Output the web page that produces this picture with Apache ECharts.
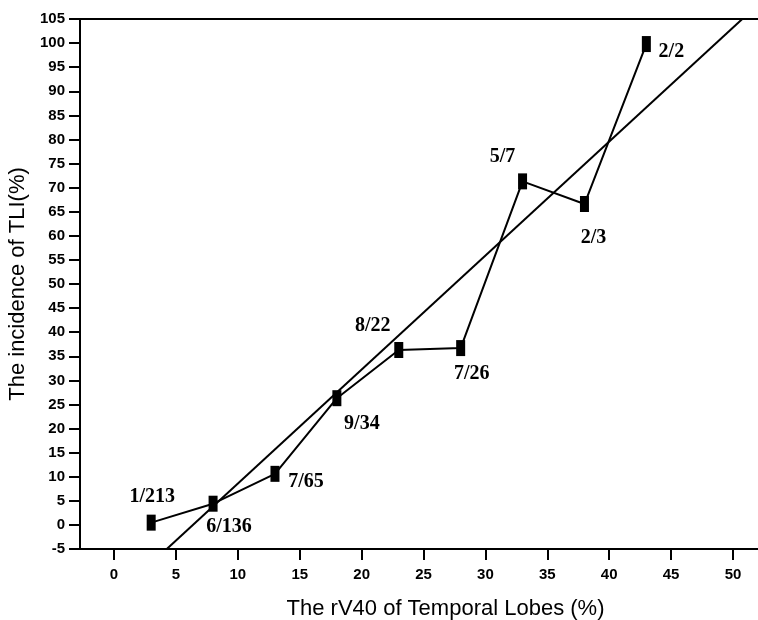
<!DOCTYPE html>
<html lang="en">
<head>
    <meta charset="UTF-8">
    <title>rV40 vs TLI</title>
    <script src="https://cdn.jsdelivr.net/npm/echarts@6/dist/echarts.min.js"></script>
</head>
<body style="margin:0;background:#fff;">
<div id="main" style="width: 758px;height: 620px;"></div>
<script>
    // data
    var rv40 = [3, 8, 13, 18, 23, 28, 33, 38, 43];
    var incidence = [0.47, 4.4, 10.6, 26.3, 36.3, 36.7, 71.3, 66.6, 99.8];
    var ratios = ['1/213', '6/136', '7/65', '9/34', '8/22', '7/26', '5/7', '2/3', '2/2'];
    // fitted line, two ends
    var fitX = [4.26, 50.75];
    var fitY = [-5, 105];
    var xTicks = [0, 5, 10, 15, 20, 25, 30, 35, 40, 45, 50];

    // label offsets (px) from each marker
    var labelOffsets = [[1, -26], [16, 23], [31, 8], [25, 26], [-26, -24], [11, 26], [-20, -25], [9, 34], [25, 8]];

    var pts = [];
    for (var i = 0; i < rv40.length; i++) {
        pts.push({
            value: [rv40[i], incidence[i]],
            label: { formatter: ratios[i], offset: labelOffsets[i] }
        });
    }
    var fit = [];
    for (var j = 0; j < fitX.length; j++) {
        fit.push([fitX[j], fitY[j]]);
    }

    var myChart = echarts.init(document.getElementById('main'));
    var option = {
        animation: false,
        // plot box runs past the right edge of the picture
        grid: {
            left: 80, width: 731, top: 19, bottom: 71,
            outerBoundsMode: 'none',
            containLabel: false,
            show: true, borderColor: '#000', borderWidth: 2
        },
        xAxis: {
            type: 'value',
            min: -2.75,
            max: 56.3,
            name: 'The rV40 of Temporal Lobes (%)',
            nameLocation: 'middle',
            nameGap: 49,
            nameTextStyle: { fontFamily: 'Liberation Sans', fontSize: 22, color: '#000' },
            axisLine: { onZero: false, lineStyle: { color: '#000', width: 2 } },
            axisTick: { show: true, length: 11, customValues: xTicks, lineStyle: { color: '#000', width: 2 } },
            axisLabel: {
                customValues: xTicks,
                margin: 18,
                fontFamily: 'Liberation Sans', fontWeight: 'bold', fontSize: 15, color: '#000'
            },
            splitLine: { show: false }
        },
        yAxis: {
            type: 'value',
            min: -5,
            max: 105,
            interval: 5,
            name: 'The incidence of TLI(%)',
            nameLocation: 'middle',
            nameGap: 45,
            nameTextStyle: { fontFamily: 'Liberation Sans', fontSize: 22, color: '#000' },
            axisLine: { onZero: false, lineStyle: { color: '#000', width: 2 } },
            axisTick: { show: true, length: 11, lineStyle: { color: '#000', width: 2 } },
            axisLabel: {
                margin: 15,
                fontFamily: 'Liberation Sans', fontWeight: 'bold', fontSize: 15, color: '#000'
            },
            splitLine: { show: false }
        },
        series: [
            {
                name: 'fit',
                type: 'line',
                data: fit,
                symbol: 'none',
                clip: true,
                lineStyle: { color: '#000', width: 2 }
            },
            {
                name: 'incidence',
                type: 'line',
                data: pts,
                symbol: 'rect',
                symbolSize: [9, 16],
                itemStyle: { color: '#000' },
                lineStyle: { color: '#000', width: 2 },
                label: {
                    show: true,
                    position: 'inside',
                    fontFamily: 'Liberation Serif',
                    fontWeight: 'bold',
                    fontSize: 20,
                    color: '#000'
                }
            }
        ]
    };
    myChart.setOption(option);
</script>
</body>
</html>
